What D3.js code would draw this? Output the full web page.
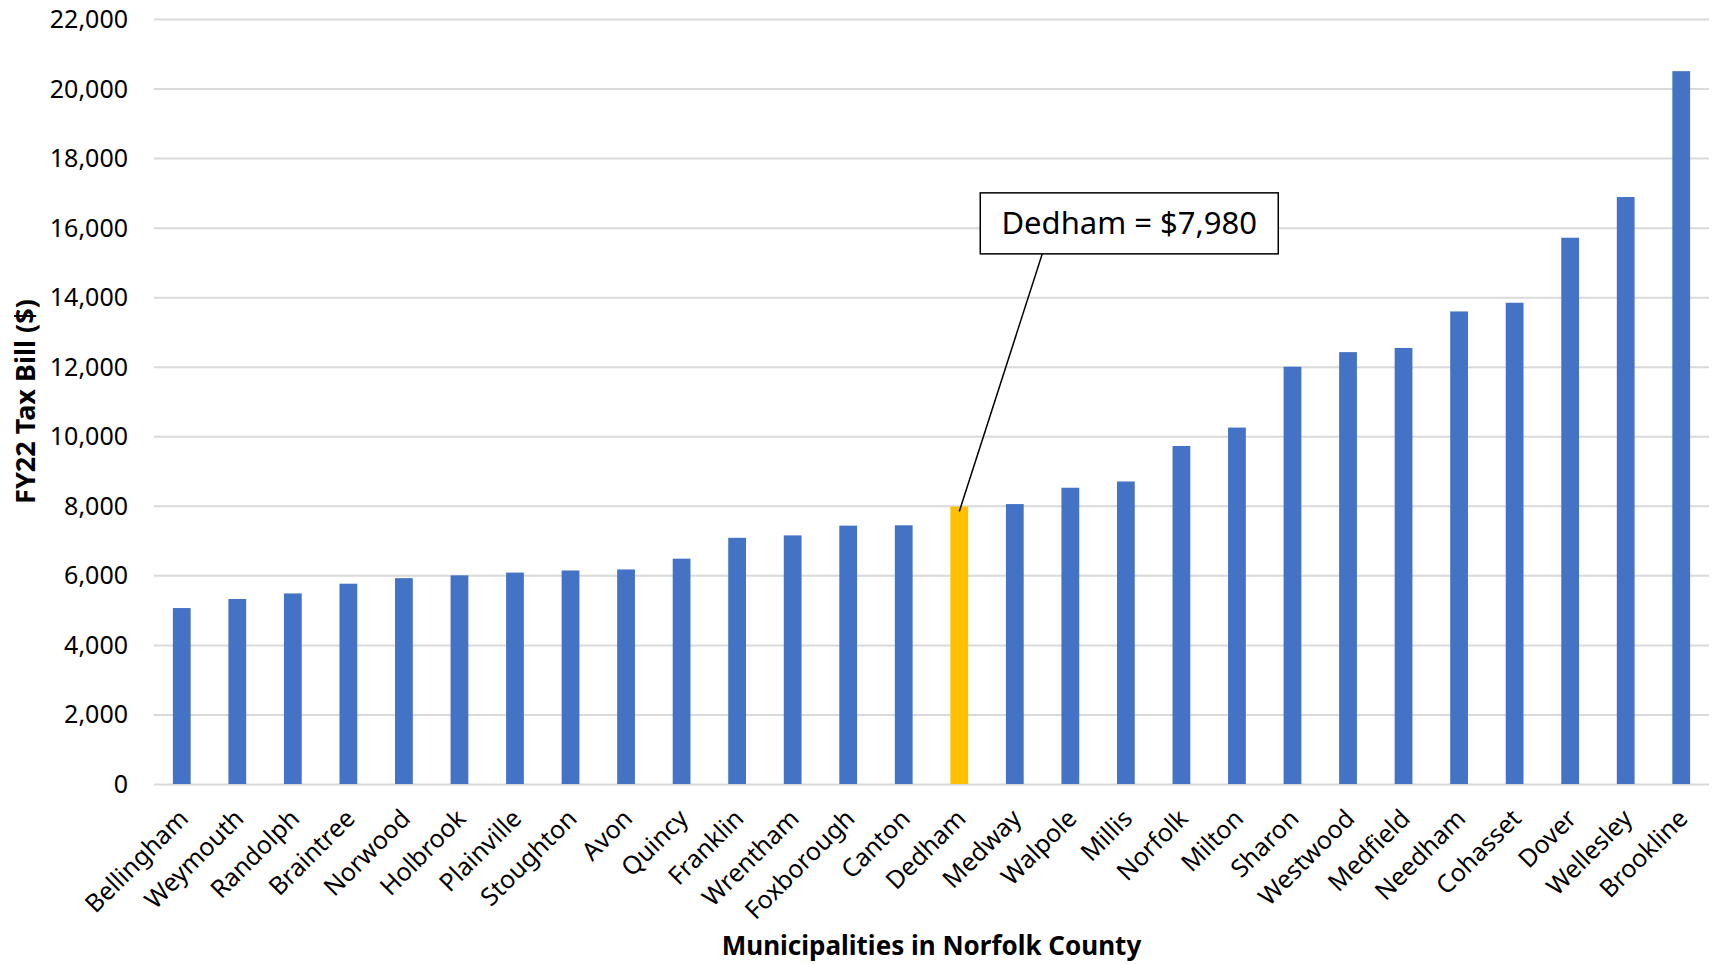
<!DOCTYPE html>
<html>
<head>
<meta charset="utf-8">
<script src="https://cdn.jsdelivr.net/npm/d3@7"></script>
<style>
  body { margin: 0; background: #fff; }
  text { font-family: "Noto Sans", sans-serif; fill: #000; }
</style>
</head>
<body>
<div id="chart"></div>
<script>
// data
var towns = ["Bellingham", "Weymouth", "Randolph", "Braintree", "Norwood", "Holbrook",
  "Plainville", "Stoughton", "Avon", "Quincy", "Franklin", "Wrentham", "Foxborough",
  "Canton", "Dedham", "Medway", "Walpole", "Millis", "Norfolk", "Milton", "Sharon",
  "Westwood", "Medfield", "Needham", "Cohasset", "Dover", "Wellesley", "Brookline"];
var taxBills = [5060, 5320, 5480, 5760, 5920, 6000, 6080, 6140, 6170, 6480, 7080, 7150,
  7430, 7440, 7980, 8050, 8520, 8700, 9720, 10250, 12000, 12420, 12540, 13590, 13840,
  15710, 16880, 20500];
var yTicks = [0, 2000, 4000, 6000, 8000, 10000, 12000, 14000, 16000, 18000, 20000, 22000];
var highlight = "Dedham";

var margin = { top: 19, right: 5, bottom: 180, left: 154 },
    W = 1714, H = 964,
    width = W - margin.left - margin.right,
    height = H - margin.top - margin.bottom;

var svg = d3.select("#chart").append("svg")
  .attr("width", W).attr("height", H);

var g = svg.append("g")
  .attr("transform", "translate(" + margin.left + "," + margin.top + ")");

var x = d3.scaleBand().domain(towns).range([0, width]).paddingInner(0.68).paddingOuter(0.34);
var y = d3.scaleLinear().domain([0, 22000]).range([height, 0]);

// gridlines + y labels
var yAxis = g.append("g")
  .call(d3.axisLeft(y).tickValues(yTicks).tickFormat(d3.format(",")).tickSize(-width).tickPadding(26));
yAxis.select(".domain").remove();
yAxis.selectAll(".tick line").attr("stroke", "#d9d9d9").attr("stroke-width", 2);
yAxis.selectAll(".tick text").style("font-size", "25px").attr("dy", "0.34em");

// bars
g.selectAll(".bar")
  .data(towns)
  .enter().append("rect")
  .attr("class", "bar")
  .attr("x", function(d) { return x(d); })
  .attr("width", x.bandwidth())
  .attr("y", function(d, i) { return y(taxBills[i]); })
  .attr("height", function(d, i) { return height - y(taxBills[i]); })
  .attr("fill", function(d) { return d === highlight ? "#FFC000" : "#4472C4"; });

// x labels
var xAxis = g.append("g")
  .attr("transform", "translate(0," + height + ")")
  .call(d3.axisBottom(x).tickSize(0).tickPadding(0));
xAxis.select(".domain").remove();
xAxis.selectAll(".tick text")
  .style("font-size", "25px")
  .attr("text-anchor", "end")
  .attr("dy", 0)
  .attr("transform", "translate(8,36) rotate(-45)");

// axis titles
svg.append("text")
  .attr("transform", "translate(35," + (margin.top + height / 2) + ") rotate(-90)")
  .attr("text-anchor", "middle")
  .style("font-size", "27px").style("font-weight", "bold")
  .text("FY22 Tax Bill ($)");

svg.append("text")
  .attr("x", margin.left + width / 2)
  .attr("y", 955)
  .attr("text-anchor", "middle")
  .style("font-size", "26px").style("font-weight", "bold")
  .text("Municipalities in Norfolk County");

// callout
var hi = towns.indexOf(highlight);
var px = x(highlight) + x.bandwidth() / 2,
    py = y(taxBills[hi]) + 5;
var box = { x: px + 21, y: y(17000), w: 298, h: 61 };

g.append("line")
  .attr("x1", px).attr("y1", py)
  .attr("x2", box.x + 62).attr("y2", box.y + box.h)
  .attr("stroke", "#000").attr("stroke-width", 1.5);

g.append("rect")
  .attr("x", box.x).attr("y", box.y)
  .attr("width", box.w).attr("height", box.h)
  .attr("fill", "#fff").attr("stroke", "#000").attr("stroke-width", 1.5);

g.append("text")
  .attr("x", box.x + box.w / 2)
  .attr("y", box.y + box.h / 2)
  .attr("dy", "0.35em")
  .attr("text-anchor", "middle")
  .style("font-size", "31px")
  .text(highlight + " = $" + d3.format(",")(taxBills[hi]));
</script>
</body>
</html>
